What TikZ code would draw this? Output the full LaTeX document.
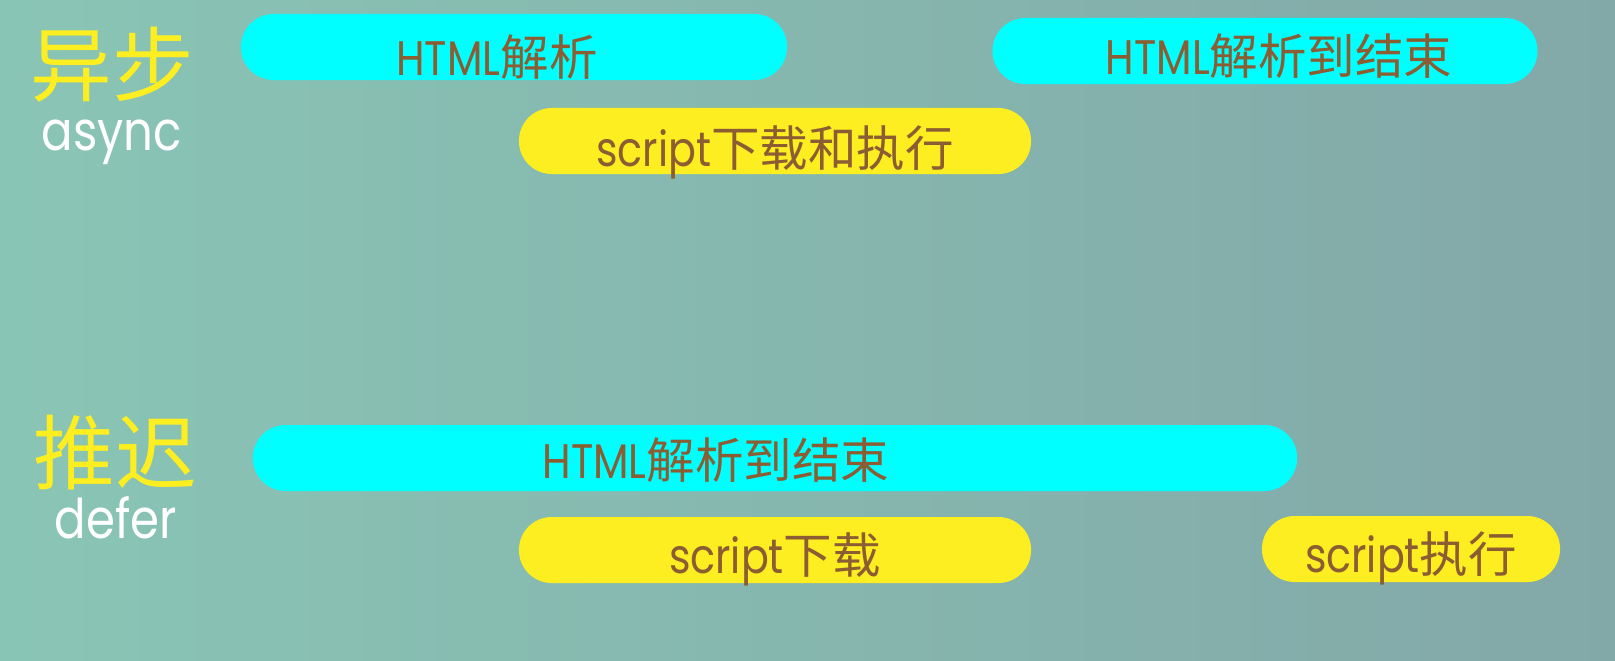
\documentclass[tikz,border=0pt]{standalone}
\usepackage{fontspec}
\setmainfont{Poppins}[FakeStretch=0.85]
\newfontfamily\cjk{Noto Sans CJK SC}
\usetikzlibrary{positioning}

\definecolor{bgleft}{RGB}{137,197,181}
\definecolor{bgright}{RGB}{131,168,168}
\definecolor{barcyan}{RGB}{0,255,255}
\definecolor{baryellow}{RGB}{252,238,33}
\definecolor{bartext}{RGB}{140,92,50}
\definecolor{titleyellow}{RGB}{252,238,33}

\tikzstyle{bar} = [rectangle, rounded corners=0.82cm, minimum height=1.65cm, inner sep=0pt, text centered, text height=1.3cm, text depth=0.13cm, text=bartext, font=\fontsize{34.5}{40}\selectfont]
\tikzstyle{cyanbar} = [bar, fill=barcyan]
\tikzstyle{yellowbar} = [bar, fill=baryellow]
\tikzstyle{title} = [text=titleyellow, inner sep=0pt, font=\cjk\fontsize{58}{64}\selectfont]
\tikzstyle{subtitle} = [text=white, inner sep=0pt, font=\fontsize{39}{44}\selectfont]

\begin{document}
\begin{tikzpicture}[x=0.025cm, y=-0.025cm]
    \shade [left color=bgleft, right color=bgright] (0,0) rectangle (1615,660);
    \useasboundingbox (0,0) rectangle (1615,660);
    % async
    \node (async) [title] at (112,65) {异步};
    \node (asynclbl) [subtitle] at (112,142) {async};
    \node (asyncparse) [cyanbar, minimum width=13.65cm, text height=1.45cm, text depth=0.03cm] at (514,47) {HTML{\cjk 解析}\hspace*{0.85cm}};
    \node (asyncparseend) [cyanbar, minimum width=13.62cm] at (1265,51) {\hspace*{0.7cm}HTML{\cjk 解析到结束}};
    \node (asyncscript) [yellowbar, minimum width=12.8cm, text height=1.4cm] at (775,141) {script{\cjk 下载和执行}};
    % defer
    \node (defer) [title] at (115,453) {推迟};
    \node (deferlbl) [subtitle] at (116,518) {defer};
    \node (deferparse) [cyanbar, minimum width=26.1cm, text height=1.15cm] at (775,458) {HTML{\cjk 解析到结束}\hspace*{2.95cm}};
    \node (deferload) [yellowbar, minimum width=12.8cm] at (775,550) {script{\cjk 下载}};
    \node (deferrun) [yellowbar, minimum width=7.45cm] at (1411,549) {script{\cjk 执行}};
\end{tikzpicture}
\end{document}
